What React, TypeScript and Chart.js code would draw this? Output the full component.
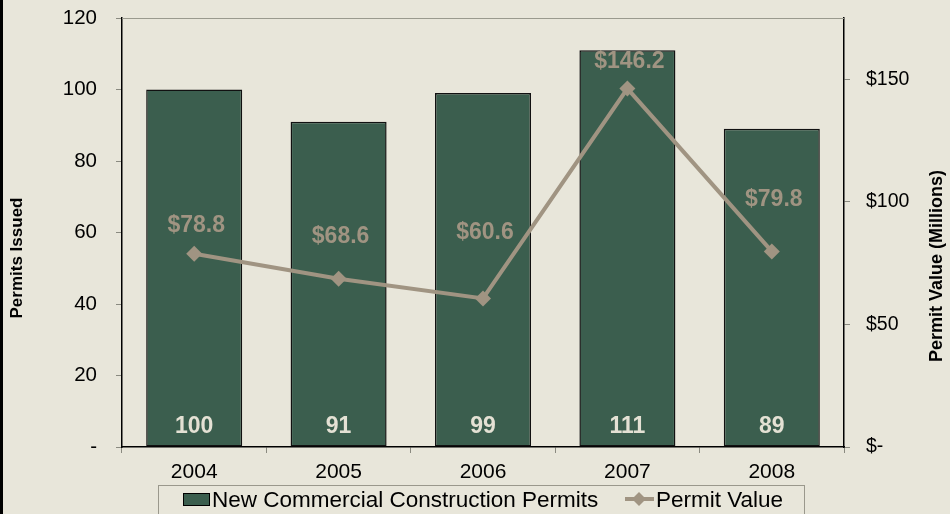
import React, { useEffect, useRef } from "react";
import { Chart, registerables } from "chart.js";

Chart.register(...registerables);

const categories = ["2004", "2005", "2006", "2007", "2008"];
const permitsIssued = [100, 91, 99, 111, 89];
const permitValue = [78.8, 68.6, 60.6, 146.2, 79.8];
const leftTicks = [0, 20, 40, 60, 80, 100, 120];
const rightTicks = [0, 50, 100, 150];

const BG = "#e8e6da";
const BAR = "#3b5e4e";
const LINE = "#a09482";
const FONT = "'Liberation Sans', Arial, sans-serif";
const valueLabelLift = [28, 42, 66, 27, 52];

const zeroPad = (s: any) => {
  s.paddingTop = 0;
  s.paddingBottom = 0;
  s.paddingLeft = 0;
  s.paddingRight = 0;
};

const decorPlugin = {
  id: "decor",
  beforeDraw(chart: any) {
    const { ctx, width, height } = chart;
    ctx.save();
    ctx.fillStyle = BG;
    ctx.fillRect(0, 0, width, height);
    ctx.restore();
  },
  afterDraw(chart: any) {
    const { ctx, chartArea } = chart;
    ctx.save();
    ctx.strokeStyle = "#9a9a8e";
    ctx.lineWidth = 1;
    ctx.beginPath();
    ctx.moveTo(chartArea.left, chartArea.top + 0.5);
    ctx.lineTo(chartArea.right, chartArea.top + 0.5);
    ctx.stroke();
    ctx.fillStyle = "#000";
    ctx.fillRect(0, 0, 3, chart.height);
    ctx.fillStyle = "#000";
    ctx.textAlign = "center";
    ctx.textBaseline = "middle";
    ctx.save();
    ctx.font = `bold 17px ${FONT}`;
    ctx.translate(17, 258);
    ctx.rotate(-Math.PI / 2);
    ctx.fillText("Permits Issued", 0, 0);
    ctx.restore();
    ctx.save();
    ctx.font = `bold 18px ${FONT}`;
    ctx.translate(937, 266);
    ctx.rotate(-Math.PI / 2);
    ctx.fillText("Permit Value (Millions)", 0, 0);
    ctx.restore();
    // legend
    ctx.strokeStyle = "#9a988c";
    ctx.lineWidth = 1;
    ctx.strokeRect(158.5, 485.5, 646, 40);
    ctx.fillStyle = BAR;
    ctx.fillRect(183, 493, 27, 13);
    ctx.strokeStyle = "#000";
    ctx.strokeRect(183.5, 493.5, 26, 12);
    ctx.fillStyle = "#000";
    ctx.font = `22.5px ${FONT}`;
    ctx.textAlign = "left";
    ctx.textBaseline = "alphabetic";
    ctx.fillText(chart.data.datasets[0].label, 212, 507);
    ctx.strokeStyle = LINE;
    ctx.lineWidth = 4;
    ctx.beginPath();
    ctx.moveTo(625, 499);
    ctx.lineTo(654, 499);
    ctx.stroke();
    ctx.fillStyle = LINE;
    ctx.beginPath();
    ctx.moveTo(639, 492);
    ctx.lineTo(646, 499);
    ctx.lineTo(639, 506);
    ctx.lineTo(632, 499);
    ctx.closePath();
    ctx.fill();
    ctx.fillStyle = "#000";
    ctx.fillText(chart.data.datasets[1].label, 656, 507);
    ctx.restore();
  },
  afterDatasetsDraw(chart: any) {
    const { ctx, chartArea } = chart;
    ctx.save();
    ctx.textAlign = "center";
    ctx.textBaseline = "middle";
    ctx.font = `bold 23px ${FONT}`;
    const barMeta = chart.getDatasetMeta(0);
    ctx.fillStyle = "#e4e1d4";
    barMeta.data.forEach((el: any, i: number) => {
      ctx.fillText(String(permitsIssued[i]), el.x, chartArea.bottom - 20);
    });
    const lineMeta = chart.getDatasetMeta(1);
    ctx.fillStyle = LINE;
    lineMeta.data.forEach((el: any, i: number) => {
      ctx.fillText("$" + permitValue[i].toFixed(1), el.x + 2, el.y - valueLabelLift[i]);
    });
    ctx.restore();
  },
};

export default function App() {
  const ref = useRef<HTMLCanvasElement>(null);
  useEffect(() => {
    if (!ref.current) return;
    const chart = new Chart(ref.current, {
      type: "bar",
      data: {
        labels: categories,
        datasets: [
          {
            type: "bar",
            label: "New Commercial Construction Permits",
            data: permitsIssued,
            backgroundColor: BAR,
            borderColor: "#111",
            borderWidth: 1.5,
            borderSkipped: false,
            barPercentage: 0.665,
            categoryPercentage: 1,
            yAxisID: "y",
            order: 2,
          },
          {
            type: "line",
            label: "Permit Value",
            data: permitValue,
            borderColor: LINE,
            backgroundColor: LINE,
            borderWidth: 4,
            pointStyle: "rectRot",
            pointRadius: 8,
            pointBorderWidth: 0,
            pointBackgroundColor: LINE,
            yAxisID: "y1",
            order: 1,
          },
        ],
      } as any,
      options: {
        animation: false,
        responsive: false,
        maintainAspectRatio: false,
        layout: { padding: { top: 18, left: 0, right: 0, bottom: 0 } },
        plugins: { legend: { display: false }, tooltip: { enabled: false } },
        scales: {
          x: {
            offset: true,
            grid: {
              offset: true,
              drawOnChartArea: false,
              drawTicks: true,
              tickLength: 6,
              color: "#8a8a80",
            },
            border: { color: "#000", width: 1.5 },
            ticks: { color: "#000", font: { size: 21, family: FONT }, padding: 7, maxRotation: 0 },
            afterFit: (s: any) => {
              s.height = 67;
              zeroPad(s);
            },
          },
          y: {
            position: "left",
            min: 0,
            max: 120,
            afterBuildTicks: (s: any) => {
              s.ticks = leftTicks.map((v) => ({ value: v }));
            },
            grid: { drawOnChartArea: false, tickLength: 6, color: "#8a8a80" },
            border: { color: "#000", width: 1.5 },
            ticks: {
              color: "#000",
              font: { size: 20.5, family: FONT },
              padding: 19,
              callback: (v: any) => (v === 0 ? "-" : String(v)),
            },
            afterFit: (s: any) => {
              s.width = 122;
              zeroPad(s);
            },
          },
          y1: {
            position: "right",
            min: 0,
            max: 175,
            afterBuildTicks: (s: any) => {
              s.ticks = rightTicks.map((v) => ({ value: v }));
            },
            grid: { drawOnChartArea: false, tickLength: 6, color: "#8a8a80" },
            border: { color: "#000", width: 1.5 },
            ticks: {
              color: "#000",
              font: { size: 19.5, family: FONT },
              padding: 16,
              callback: (v: any) => (v === 0 ? "$-" : "$" + v),
            },
            afterFit: (s: any) => {
              s.width = 106;
              zeroPad(s);
            },
          },
        },
      },
      plugins: [decorPlugin],
    });
    return () => chart.destroy();
  }, []);
  return (
    <div style={{ position: "fixed", left: 0, top: 0, width: 950, height: 514, background: BG }}>
      <canvas ref={ref} width={950} height={514} style={{ display: "block", width: 950, height: 514 }} />
    </div>
  );
}
